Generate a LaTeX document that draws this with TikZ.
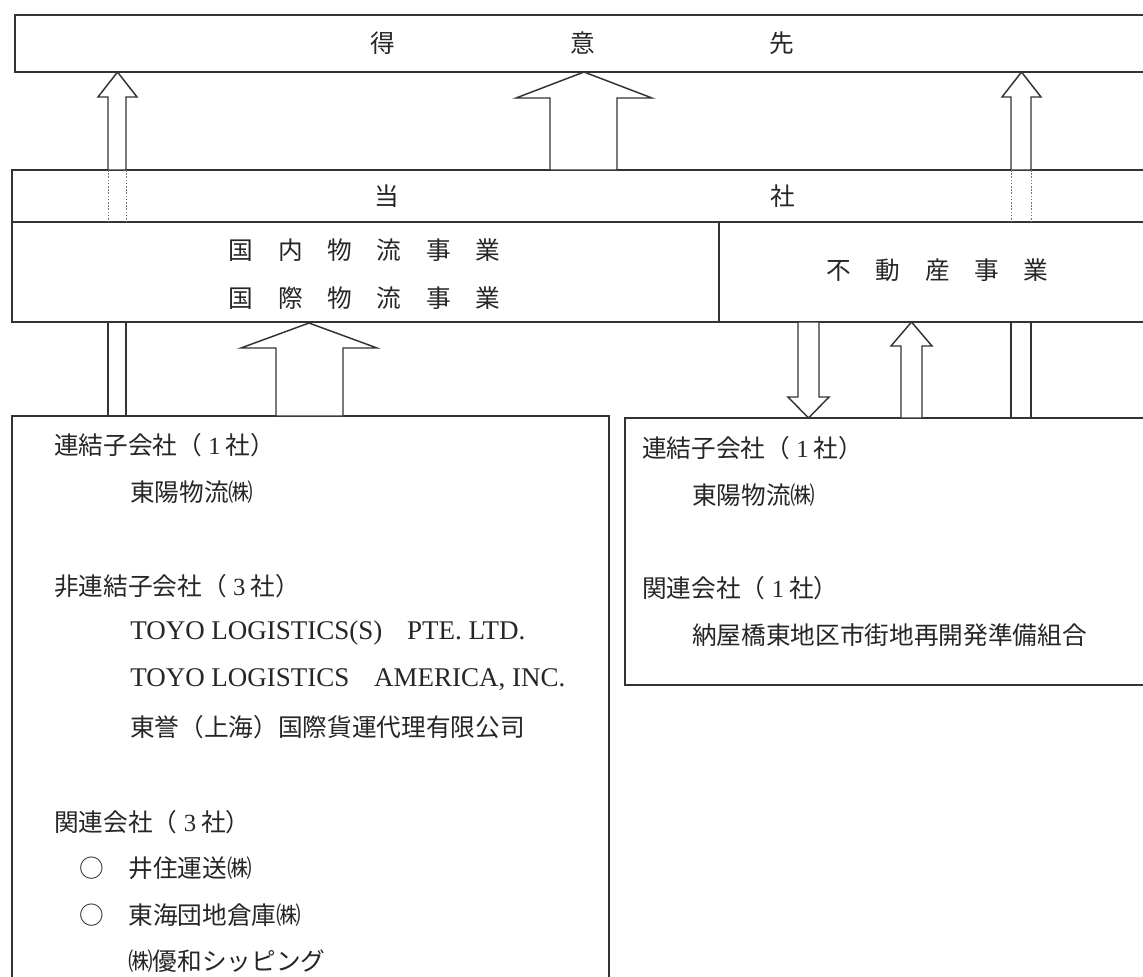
\documentclass[tikz,border=0pt]{standalone}
\usepackage{fontspec}
\setmainfont{Liberation Serif}
\newfontfamily\jp{Noto Sans CJK JP}
\newcommand{\hd}[1]{{\hskip0.25em\rmfamily #1\hskip0.2em}}
\newcommand{\zw}{{\jp\fontsize{18.5pt}{22pt}\selectfont\char"3000}}
\newcommand{\blockarr}[7]{\draw[blockarrow] (#1,#7) -- (#1,#6) -- (#3,#6) -- ({(#3+#4)/2},#5) -- (#4,#6) -- (#2,#6) -- (#2,#7) -- cycle;}
\tikzset{
  box/.style={draw=black!80, line width=1.1pt},
  blockarrow/.style={draw=black!80, line width=1.1pt, fill=white, line join=miter},
  dotline/.style={draw=black!55, line width=0.7pt, dash pattern=on 1.2pt off 1.2pt},
  jt/.style={font=\jp\fontsize{18.5pt}{22pt}\selectfont, inner sep=0pt, text=black!85},
  lt/.style={font=\rmfamily\fontsize{20.25pt}{24pt}\selectfont, inner sep=0pt, text=black!85},
}
\begin{document}
\begin{tikzpicture}[x=0.75pt,y=-0.75pt]
\useasboundingbox (0,0) rectangle (1143,976);
\fill[white] (0,0) rectangle (1143,976);
\clip (0,0) rectangle (1143,976);

% boxes
\draw[box] (15,15) rectangle (1160,72);
\draw[box] (12,170) rectangle (1160,222);
\draw[box] (12,222) rectangle (719,322);
\draw[box] (719,222) rectangle (1160,322);
\draw[box] (12,416) rectangle (609,1000);
\draw[box] (625,418) rectangle (1160,685);

% arrows to customers
\blockarr{108}{126}{98}{137}{72}{97}{170}
\blockarr{550}{617}{516}{652}{72}{98}{170}
\blockarr{1011}{1031}{1002}{1041}{72}{97}{170}
\draw[dotline] (108,170) -- (108,222);
\draw[dotline] (126,170) -- (126,222);
\draw[dotline] (1011,170) -- (1011,222);
\draw[dotline] (1031,170) -- (1031,222);

% lower connections
\draw[box] (108,322) -- (108,416);
\draw[box] (126,322) -- (126,416);
\blockarr{276}{343}{241}{377}{323}{348}{416}
\blockarr{798}{819}{788}{829}{418}{397}{322}
\blockarr{901}{922}{891}{932}{322}{346}{418}
\draw[box] (1011,322) -- (1011,418);
\draw[box] (1031,322) -- (1031,418);

% texts
\node[jt] (c1) at (383,43) {得};
\node[jt] (c2) at (583,43) {意};
\node[jt] (c3) at (782,43) {先};
\node[jt] (t1) at (387,196) {当};
\node[jt] (t2) at (783,196) {社};
\node[jt] (d1) at (364.5,250) {国　内　物　流　事　業};
\node[jt] (d2) at (364.5,298) {国　際　物　流　事　業};
\node[jt] (r1) at (937.5,270) {不　動　産　事　業};

\node[jt,anchor=west] (l1) at (54,445) {連結子会社（\hd{1}社）};
\node[jt,anchor=west] (l2) at (130,492) {東陽物流㈱};
\node[jt,anchor=west] (l3) at (54,586) {非連結子会社（\hd{3}社）};
\node[lt,anchor=west] (l4) at (130,633) {TOYO LOGISTICS(S)\zw PTE. LTD.};
\node[lt,anchor=west] (l5) at (130,680) {TOYO LOGISTICS\zw AMERICA, INC.};
\node[jt,anchor=west] (l6) at (130,727) {東誉（上海）国際貨運代理有限公司};
\node[jt,anchor=west] (l7) at (54,822) {関連会社（\hd{3}社）};
\node[jt,anchor=west] (l8) at (79,868) {○　井住運送㈱};
\node[jt,anchor=west] (l9) at (79,915) {○　東海団地倉庫㈱};
\node[jt,anchor=west] (l10) at (128,961) {㈱優和シッピング};

\node[jt,anchor=west] (q1) at (642,448) {連結子会社（\hd{1}社）};
\node[jt,anchor=west] (q2) at (692,495) {東陽物流㈱};
\node[jt,anchor=west] (q3) at (642,588) {関連会社（\hd{1}社）};
\node[jt,anchor=west] (q4) at (692,635) {納屋橋東地区市街地再開発準備組合};
\end{tikzpicture}
\end{document}
